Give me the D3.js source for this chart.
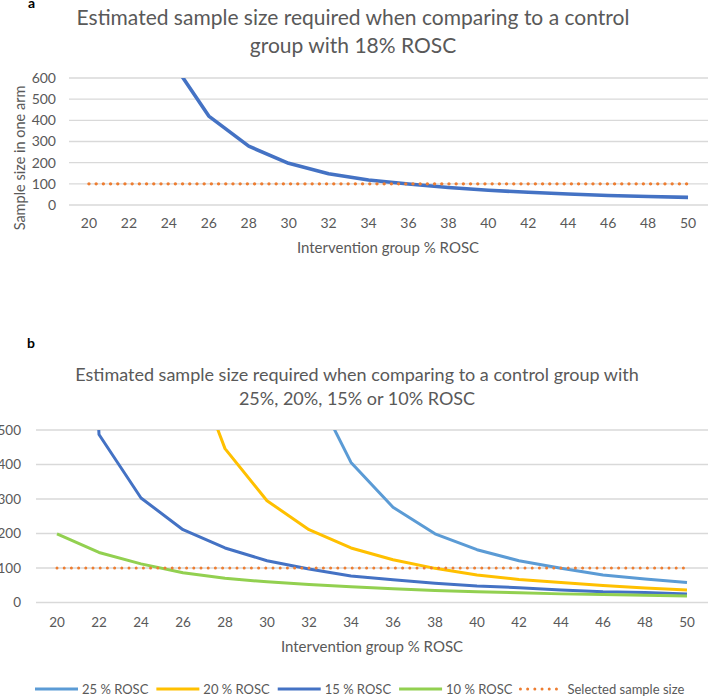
<!DOCTYPE html>
<html>
<head>
<meta charset="utf-8">
<script src="https://cdn.jsdelivr.net/npm/d3@7"></script>
<style>
  html, body { margin: 0; padding: 0; background: #fff; }
  svg { display: block; font-family: Lato, "Open Sans", sans-serif; }
</style>
</head>
<body>
<svg id="chart" width="708" height="696"></svg>
<script>
// ---- data ----
const categories = ["20","22","24","26","28","30","32","34","36","38","40","42","44","46","48","50"];
const tickLabelsA = [0, 100, 200, 300, 400, 500, 600];
const tickLabelsB = [0, 100, 200, 300, 400, 500];

// Panel a: control group 18% ROSC
const rosc18 = [6000, 1560, 700, 420, 278, 197, 148, 118, 99, 83, 70, 60, 52, 45, 40, 36];
const selectedA = [100, 100, 100, 100, 100, 100, 100, 100, 100, 100, 100, 100, 100, 100, 100, 100];

// Panel b: control groups 25/20/15/10 % ROSC
const rosc25 = [null, 3000, 1700, 1100, 900, 700, 648, 406, 276, 199, 153, 121, 99, 80, 68, 58];
const rosc20 = [null, 6000, 2000, 767, 446, 295, 211, 158, 124, 99, 80, 67, 58, 49, 42, 36];
const rosc15 = [3000, 487, 303, 211, 158, 121, 97, 77, 66, 56, 48, 43, 36, 31, 29, 25];
const rosc10 = [199, 145, 112, 86, 70, 60, 52, 46, 40, 35, 31, 28, 25, 23, 21, 19];
const selectedB = [100, 100, 100, 100, 100, 100, 100, 100, 100, 100, 100, 100, 100, 100, 100, 100];

const seriesNamesB = ["25 % ROSC", "20 % ROSC", "15 % ROSC", "10 % ROSC", "Selected sample size"];
const seriesColorsB = ["#5B9BD5", "#FFC000", "#4472C4", "#92D050", "#ED7D31"];

// ---- drawing ----
const svg = d3.select("#chart");
const textColor = "#595959";
const gridColor = "#D9D9D9";

function panel(opts) {
  const g = svg.append("g");
  const x = d3.scaleBand().domain(categories).range([opts.x0, opts.x1]).padding(0);
  const y = d3.scaleLinear().domain([0, opts.ymax]).range([opts.y0, opts.y1]);
  const cx = c => x(c) + x.bandwidth() / 2;

  // gridlines
  g.append("g").selectAll("line").data(opts.ticks).join("line")
    .attr("x1", opts.x0).attr("x2", opts.x1)
    .attr("y1", d => y(d)).attr("y2", d => y(d))
    .attr("stroke", gridColor).attr("stroke-width", 1.3);

  // y tick labels
  g.append("g").selectAll("text").data(opts.ticks).join("text")
    .attr("x", opts.yLabelX).attr("y", d => y(d))
    .attr("dy", "0.35em").attr("text-anchor", "end")
    .attr("fill", textColor).attr("font-size", opts.tickSize)
    .text(d => d);

  // x tick labels
  g.append("g").selectAll("text").data(categories).join("text")
    .attr("x", d => cx(d)).attr("y", opts.xLabelY)
    .attr("text-anchor", "middle")
    .attr("fill", textColor).attr("font-size", opts.tickSize)
    .text(d => d);

  // clip
  const clipId = "clip" + opts.id;
  svg.append("defs").append("clipPath").attr("id", clipId)
    .append("rect").attr("x", 0).attr("y", opts.y1).attr("width", 708).attr("height", opts.y0 - opts.y1 + 20);

  const line = d3.line().defined(d => d.v !== null).x(d => cx(d.c)).y(d => y(d.v));
  const lg = g.append("g").attr("clip-path", `url(#${clipId})`);
  opts.series.forEach(s => {
    const data = categories.map((c, i) => ({ c, v: s.values[i] }));
    const p = lg.append("path").datum(data).attr("d", line)
      .attr("fill", "none").attr("stroke", s.color)
      .attr("stroke-width", s.width);
    if (s.dotted) {
      p.attr("stroke-dasharray", "0 7.2").attr("stroke-linecap", "round");
    } else {
      p.attr("stroke-linejoin", "round").attr("stroke-linecap", "butt");
    }
  });
  return { x, y };
}

// Panel a
svg.append("text").attr("x", 28).attr("y", 8).attr("font-size", 14)
  .attr("font-weight", "bold").attr("fill", "#000").text("a");
svg.append("text").attr("x", 353).attr("y", 25).attr("text-anchor", "middle")
  .attr("font-size", 21).attr("fill", textColor)
  .text("Estimated sample size required when comparing to a control");
svg.append("text").attr("x", 353).attr("y", 53).attr("text-anchor", "middle")
  .attr("font-size", 21).attr("fill", textColor)
  .text("group with 18% ROSC");

panel({
  id: "a", x0: 69, x1: 708, y0: 205, y1: 78, ymax: 600,
  ticks: tickLabelsA, yLabelX: 56, xLabelY: 228, tickSize: 14,
  series: [
    { values: rosc18, color: "#4472C4", width: 3.6 },
    { values: selectedA, color: "#ED7D31", width: 3.4, dotted: true }
  ]
});
svg.append("text").attr("transform", "translate(25,158) rotate(-90)")
  .attr("text-anchor", "middle").attr("font-size", 14.5).attr("fill", textColor)
  .text("Sample size in one arm");
svg.append("text").attr("x", 388).attr("y", 253).attr("text-anchor", "middle")
  .attr("font-size", 15).attr("fill", textColor)
  .text("Intervention group % ROSC");

// Panel b
svg.append("text").attr("x", 27).attr("y", 348).attr("font-size", 14)
  .attr("font-weight", "bold").attr("fill", "#000").text("b");
svg.append("text").attr("x", 357).attr("y", 381).attr("text-anchor", "middle")
  .attr("font-size", 18).attr("fill", textColor)
  .text("Estimated sample size required when comparing to a control group with");
svg.append("text").attr("x", 357).attr("y", 405).attr("text-anchor", "middle")
  .attr("font-size", 18).attr("fill", textColor)
  .text("25%, 20%, 15% or 10% ROSC");

panel({
  id: "b", x0: 36, x1: 708, y0: 602.5, y1: 430, ymax: 500,
  ticks: tickLabelsB, yLabelX: 21, xLabelY: 627, tickSize: 13.5,
  series: [
    { values: rosc25, color: seriesColorsB[0], width: 3 },
    { values: rosc20, color: seriesColorsB[1], width: 3 },
    { values: rosc15, color: seriesColorsB[2], width: 3 },
    { values: rosc10, color: seriesColorsB[3], width: 3 },
    { values: selectedB, color: seriesColorsB[4], width: 3, dotted: true }
  ]
});
svg.append("text").attr("x", 372).attr("y", 652).attr("text-anchor", "middle")
  .attr("font-size", 15).attr("fill", textColor)
  .text("Intervention group % ROSC");

// Legend b
const legend = svg.append("g");
let lx = 35;
const ly = 689;
seriesNamesB.forEach((name, i) => {
  const item = legend.append("g");
  const ln = item.append("line").attr("x1", lx).attr("x2", lx + 43)
    .attr("y1", ly).attr("y2", ly).attr("stroke", seriesColorsB[i]).attr("stroke-width", 3);
  if (i === 4) ln.attr("stroke-dasharray", "0 7.2").attr("stroke-linecap", "round").attr("x2", lx + 41);
  const t = item.append("text").attr("x", lx + 47).attr("y", ly).attr("dy", "0.35em")
    .attr("font-size", 13).attr("fill", textColor).text(name);
  lx = lx + 47 + t.node().getComputedTextLength() + 8;
});
</script>
</body>
</html>
